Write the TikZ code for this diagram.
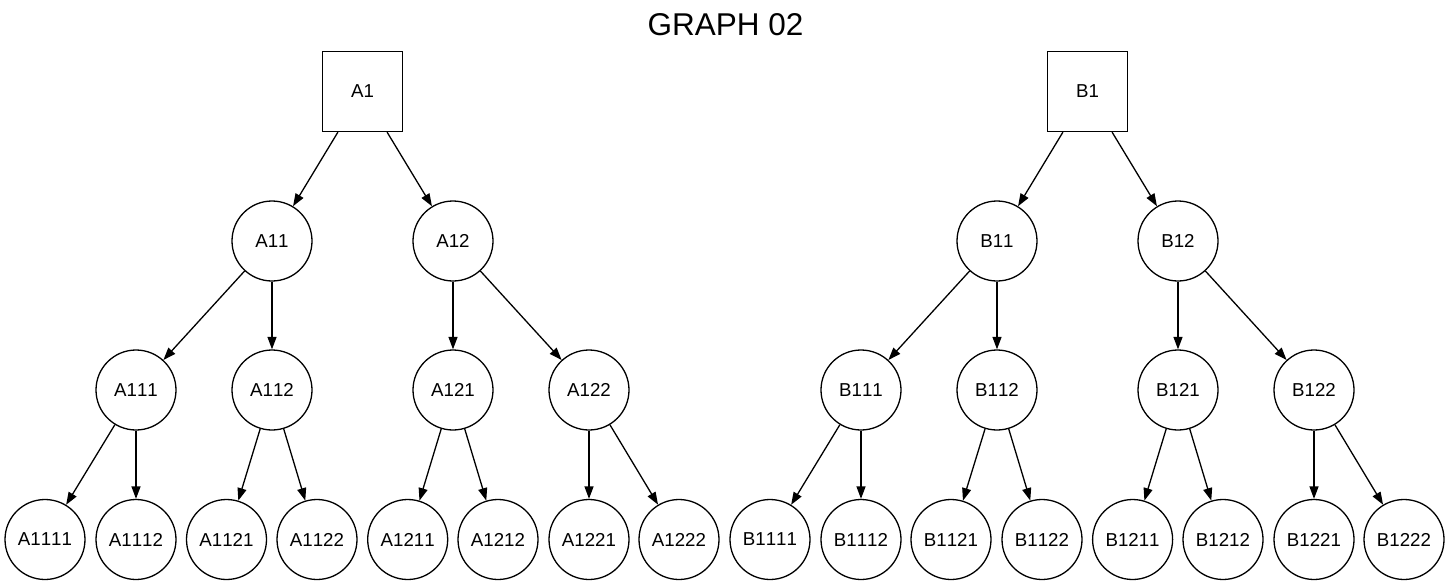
\documentclass[tikz,border=0pt]{standalone}
\usepackage{fontspec}
\setmainfont[Kerning=Off]{Liberation Sans}
\usetikzlibrary{arrows.meta}
\begin{document}
\begin{tikzpicture}[x=1pt,y=-1pt,
  lbl/.style={font=\fontsize{18.7}{22}\selectfont},
  sq/.style={draw,line width=1.3pt,minimum width=80pt,minimum height=80pt,inner sep=0pt,lbl},
  cir/.style={draw,circle,line width=1.3pt,minimum size=80pt,inner sep=0pt,lbl},
  edge/.style={line width=1.3pt,-{Triangle[length=12.5pt,width=9pt]}}]
\useasboundingbox (0,0) rectangle (1451,587);
\node[font=\fontsize{31.5}{36}\selectfont] (title) at (725.5,25) {GRAPH 02};
% level 1
\node[sq] (A1) at (362.5,91.5) {A1};
\node[sq] (B1) at (1087.5,91.5) {B1};
% level 2
\node[cir] (A11) at (272,241) {A11};
\node[cir] (A12) at (453,241) {A12};
\node[cir] (B11) at (997,241) {B11};
\node[cir] (B12) at (1178,241) {B12};
% level 3
\node[cir] (A111) at (136,390) {A111};
\node[cir] (A112) at (272,390) {A112};
\node[cir] (A121) at (453,390) {A121};
\node[cir] (A122) at (589,390) {A122};
\node[cir] (B111) at (861,390) {B111};
\node[cir] (B112) at (997,390) {B112};
\node[cir] (B121) at (1178,390) {B121};
\node[cir] (B122) at (1314,390) {B122};
% level 4
\node[cir] (A1111) at (45,539.5) {A1111};
\node[cir] (A1112) at (136,539.5) {A1112};
\node[cir] (A1121) at (226.5,539.5) {A1121};
\node[cir] (A1122) at (317,539.5) {A1122};
\node[cir] (A1211) at (407.7,539.5) {A1211};
\node[cir] (A1212) at (498,539.5) {A1212};
\node[cir] (A1221) at (589,539.5) {A1221};
\node[cir] (A1222) at (679,539.5) {A1222};
\node[cir] (B1111) at (770,539.5) {B1111};
\node[cir] (B1112) at (861,539.5) {B1112};
\node[cir] (B1121) at (951,539.5) {B1121};
\node[cir] (B1122) at (1042,539.5) {B1122};
\node[cir] (B1211) at (1132.6,539.5) {B1211};
\node[cir] (B1212) at (1223,539.5) {B1212};
\node[cir] (B1221) at (1314,539.5) {B1221};
\node[cir] (B1222) at (1404,539.5) {B1222};
% edges
\foreach \p/\c in {A1/A11,A1/A12,B1/B11,B1/B12,
  A11/A111,A11/A112,A12/A121,A12/A122,
  B11/B111,B11/B112,B12/B121,B12/B122,
  A111/A1111,A111/A1112,A112/A1121,A112/A1122,
  A121/A1211,A121/A1212,A122/A1221,A122/A1222,
  B111/B1111,B111/B1112,B112/B1121,B112/B1122,
  B121/B1211,B121/B1212,B122/B1221,B122/B1222}
  \draw[edge] (\p) -- (\c);
\end{tikzpicture}
\end{document}
